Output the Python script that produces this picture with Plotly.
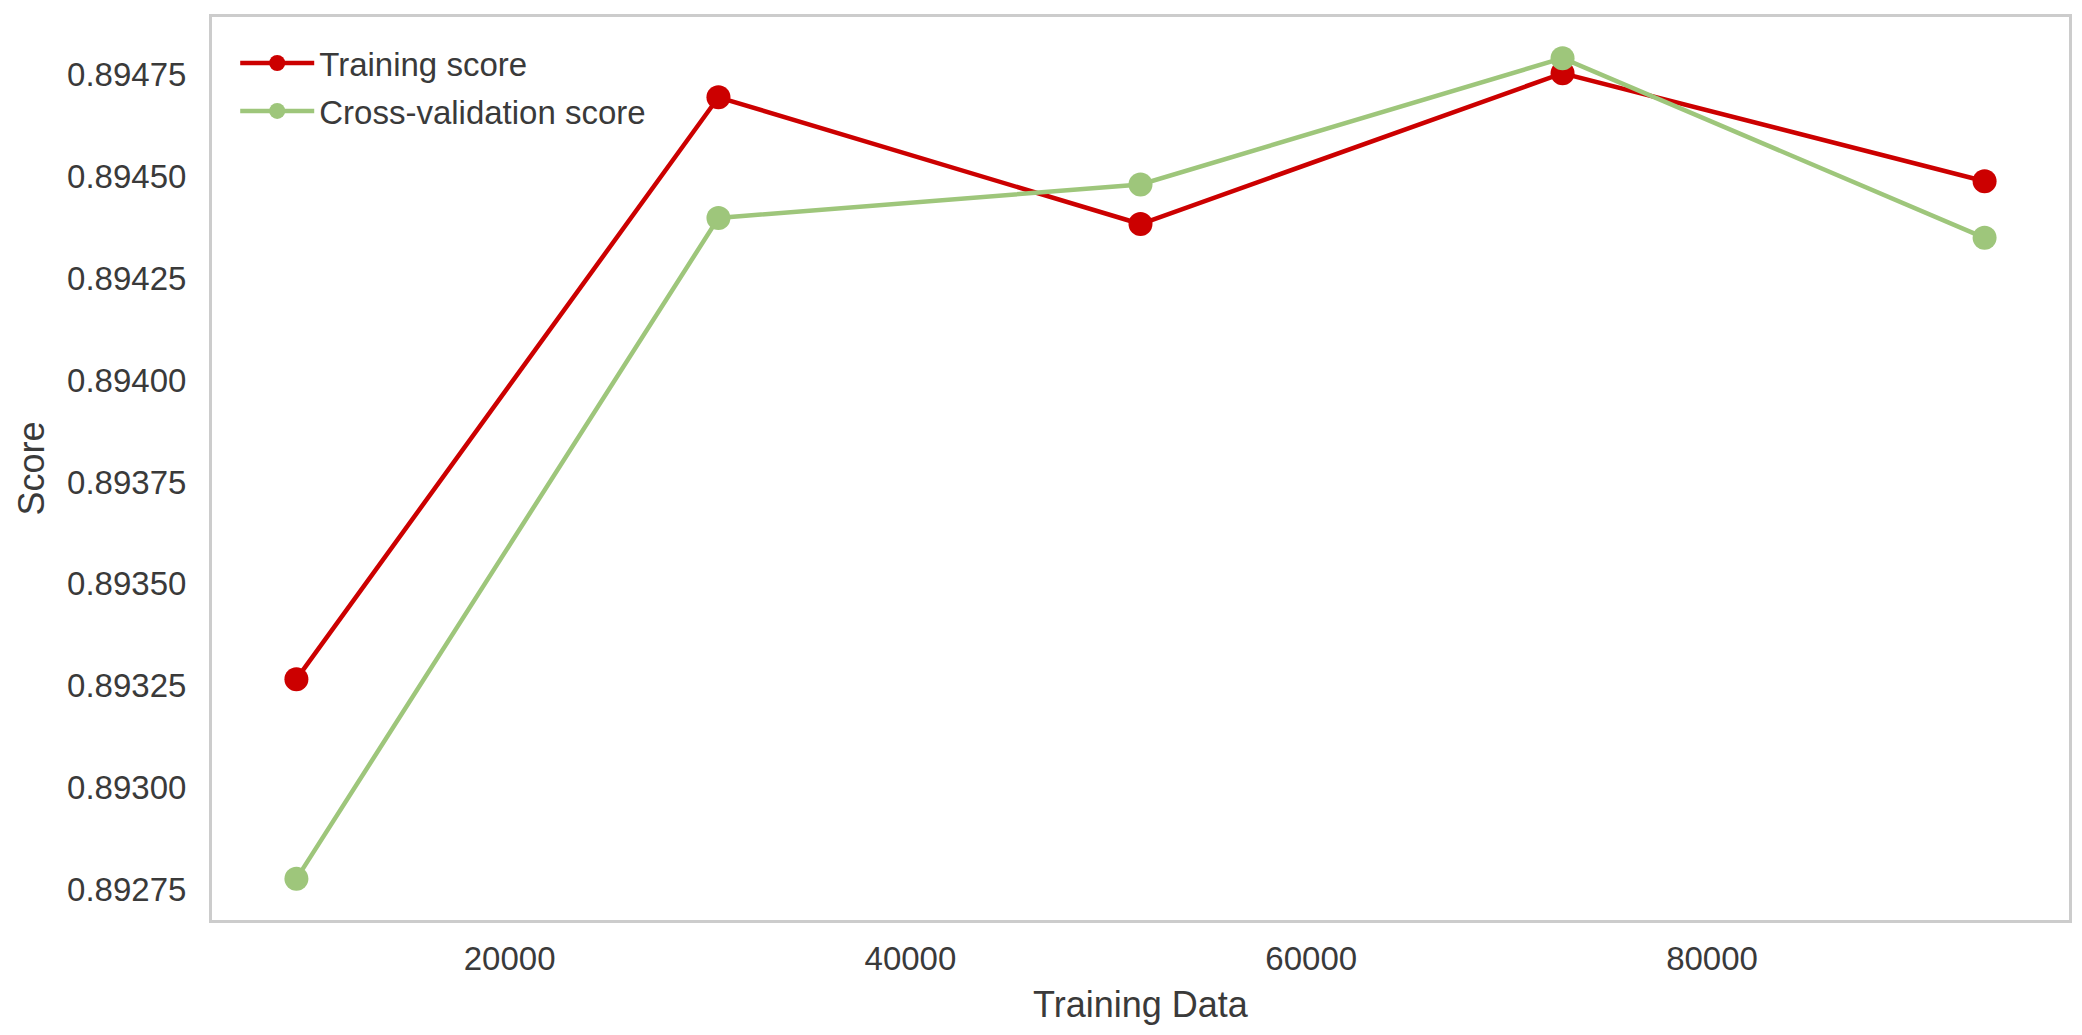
import plotly.graph_objects as go

# Data
train_sizes = [9360, 30420, 51480, 72540, 93600]
train_scores = [0.893266, 0.894694, 0.894383, 0.894753, 0.894488]
cv_scores = [0.892776, 0.894398, 0.894480, 0.894790, 0.894349]
y_ticks = [0.89275, 0.89300, 0.89325, 0.89350, 0.89375, 0.89400, 0.89425, 0.89450, 0.89475]
x_ticks = [20000, 40000, 60000, 80000]

RED = "#cc0000"
GREEN = "#9ec67b"
TXT = "#3a3a3a"
FONT = "Liberation Sans, Arial, sans-serif"

fig = go.Figure()
fig.add_trace(go.Scatter(
    x=train_sizes, y=train_scores, mode="lines+markers", name="Training score",
    line=dict(color=RED, width=4.5), marker=dict(color=RED, size=24),
    legendgroup="a"))
fig.add_trace(go.Scatter(
    x=train_sizes, y=cv_scores, mode="lines+markers", name="Cross-validation score",
    line=dict(color=GREEN, width=4.5), marker=dict(color=GREEN, size=24),
    legendgroup="b"))

axis_common = dict(
    showgrid=False, zeroline=False, showline=True, mirror=True,
    linecolor="#cccccc", linewidth=3, ticks="",
    tickfont=dict(family=FONT, size=33, color=TXT),
)

fig.update_layout(
    width=2082, height=1035,
    margin=dict(l=212, r=13, t=17, b=115, autoexpand=False),
    paper_bgcolor="white", plot_bgcolor="white",
    font=dict(family=FONT, size=33, color=TXT),
    showlegend=True,
    legend=dict(
        x=0.0125, y=0.98, xanchor="left", yanchor="top",
        bgcolor="rgba(0,0,0,0)", borderwidth=0,
        font=dict(family=FONT, size=33, color=TXT),
        tracegroupgap=2, itemwidth=74,
    ),
    xaxis=dict(
        range=[5148, 97812], tickvals=x_ticks, ticktext=[str(v) for v in x_ticks],
        ticklabelstandoff=7,
        title=dict(text="Training Data", font=dict(family=FONT, size=36, color=TXT), standoff=17),
        **axis_common,
    ),
    yaxis=dict(
        range=[0.892675, 0.894891], tickvals=y_ticks, ticktext=[f"{v:.5f}" for v in y_ticks],
        ticklabelstandoff=16,
        title=dict(text="Score", font=dict(family=FONT, size=36, color=TXT), standoff=12),
        **axis_common,
    ),
)

fig.write_html(
    "out.html",
    config={"displayModeBar": False},
    post_script="document.body.style.margin='0';document.body.style.overflow='hidden';",
)
